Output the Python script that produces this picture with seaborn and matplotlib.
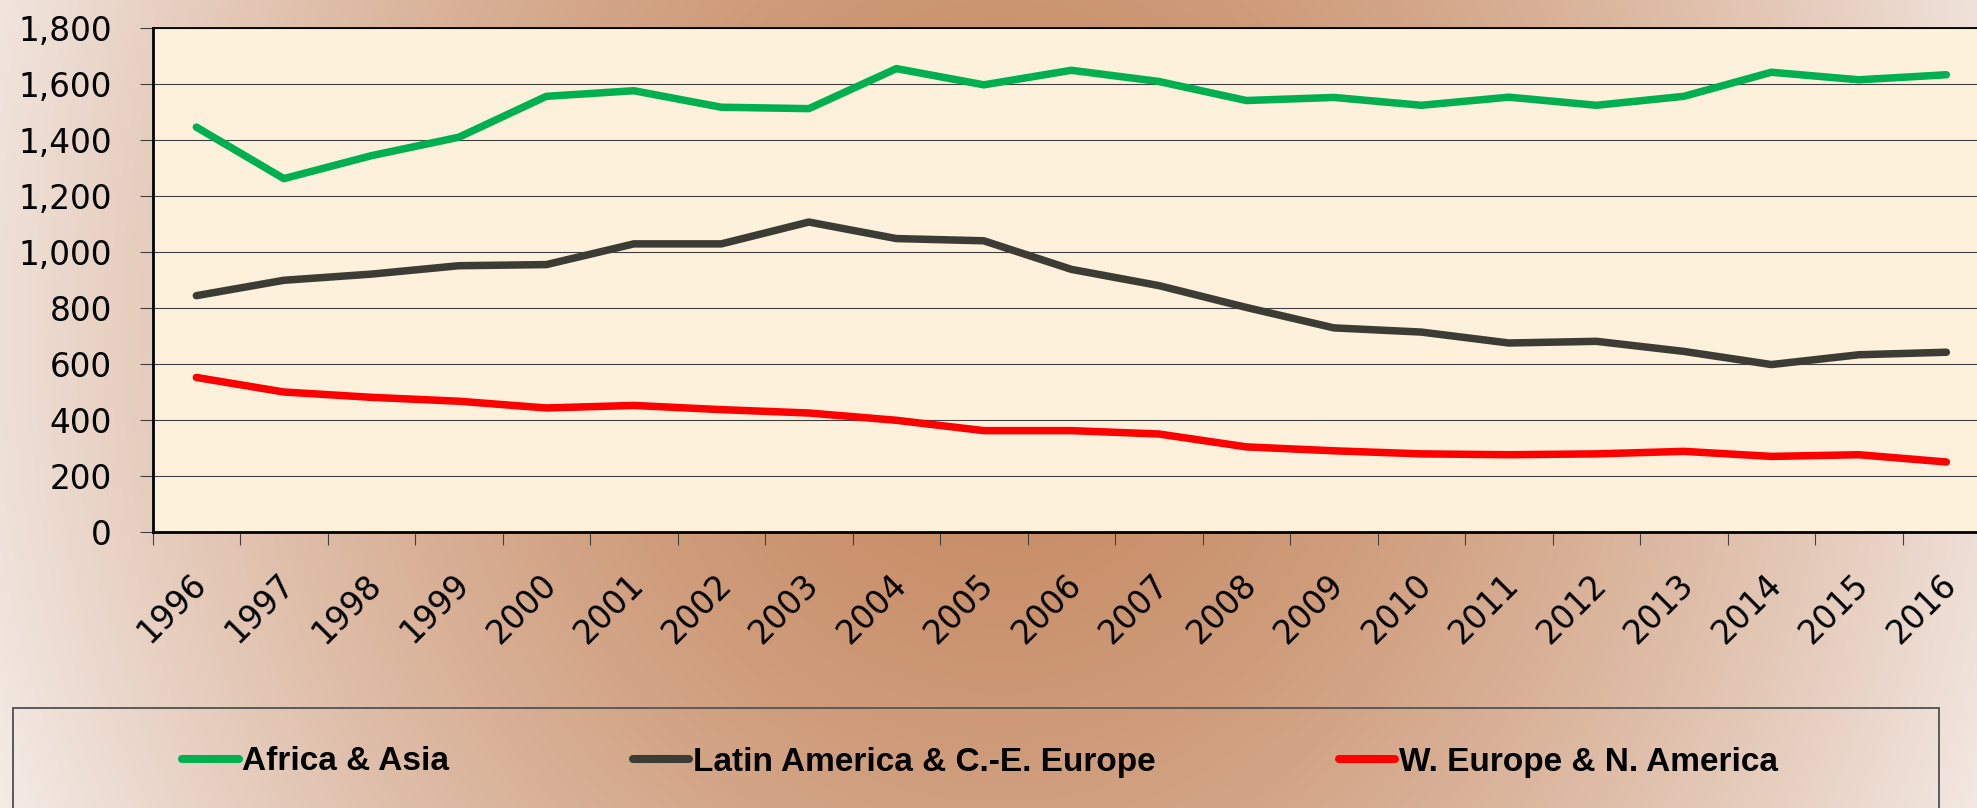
import numpy as np
import pandas as pd
import matplotlib
matplotlib.use("Agg")
import matplotlib.pyplot as plt
import matplotlib.transforms as mtransforms
from matplotlib.lines import Line2D
from matplotlib.patches import Rectangle
import seaborn as sns

# ---------------- data ----------------
years = list(range(1996, 2017))
africa_asia = [1446, 1262, 1344, 1410, 1556, 1576, 1517, 1512, 1655, 1597, 1649,
               1609, 1541, 1552, 1524, 1553, 1524, 1556, 1642, 1615, 1633]
latam_ce_europe = [844, 899, 921, 951, 955, 1029, 1029, 1107, 1048, 1040, 938,
                   880, 802, 729, 714, 675, 681, 645, 598, 633, 642]
weurope_namerica = [552, 500, 481, 467, 443, 452, 437, 425, 399, 362, 362,
                    350, 304, 290, 279, 276, 279, 288, 270, 276, 250]
series_names = ["Africa & Asia", "Latin America & C.-E. Europe", "W. Europe & N. America"]
series_colors = ["#00B050", "#3D3C34", "#FF0000"]
y_ticks = [0, 200, 400, 600, 800, 1000, 1200, 1400, 1600, 1800]

df = pd.DataFrame({
    "year": years * 3,
    "value": africa_asia + latam_ce_europe + weurope_namerica,
    "region": [series_names[0]] * len(years) + [series_names[1]] * len(years)
              + [series_names[2]] * len(years),
})

# ---------------- style ----------------
sns.set_theme(style="white")
plt.rcParams["font.family"] = ["DejaVu Sans"]
plt.rcParams["text.color"] = "black"

W, H = 1977, 808
fig = plt.figure(figsize=(W / 100, H / 100), dpi=100)

# background radial gradient
bg = fig.add_axes([0, 0, 1, 1], zorder=-10)
yy, xx = np.mgrid[0:H, 0:W]
r = np.sqrt(((xx - 1000) / 1150.0) ** 2 + ((yy - 330) / 1300.0) ** 2)
t = np.clip(r, 0, 1) ** 1.6
c0 = np.array([198, 138, 98]) / 255.0
c1 = np.array([249, 245, 244]) / 255.0
img = c0[None, None, :] * (1 - t[..., None]) + c1[None, None, :] * t[..., None]
bg.imshow(img, aspect="auto", extent=[0, 1, 0, 1], origin="upper")
bg.set_axis_off()

# main axes (right edge extends slightly beyond the figure, as in the reference)
left_px, right_px, top_px, bottom_px = 152.6, 1990.1, 28, 532
ax = fig.add_axes([left_px / W, 1 - bottom_px / H,
                   (right_px - left_px) / W, (bottom_px - top_px) / H], zorder=1)
ax.set_facecolor("#FDF1DC")

LW = 5.4
sns.lineplot(data=df, x="year", y="value", hue="region", hue_order=series_names,
             palette=series_colors, linewidth=LW, legend=False, ax=ax, zorder=3)
for ln in ax.lines:
    ln.set_linewidth(LW)
    ln.set_solid_capstyle("round")

ax.set_xlim(1995.5, 2016.5)
ax.set_ylim(0, 1800)
ax.set_xlabel("")
ax.set_ylabel("")

ax.set_yticks(y_ticks)
ax.set_yticklabels([f"{v:,}" for v in y_ticks])
ax.yaxis.grid(True, color="#404040", linewidth=0.8)
ax.xaxis.grid(False)
ax.set_axisbelow(True)

ax.set_xticks(years)
ax.set_xticks([y + 0.5 for y in years[:-1]] + [1995.5], minor=True)
ax.set_xticklabels([str(y) for y in years], rotation=45, ha="right",
                   va="center", rotation_mode="anchor")

ax.tick_params(axis="y", which="major", direction="out", length=9.5, width=0.8,
               color="#404040", pad=20, labelsize=23.5, labelcolor="black", left=True)
ax.tick_params(axis="x", which="major", length=0, pad=34, labelsize=23.5,
               labelcolor="black", bottom=True)
ax.tick_params(axis="x", which="minor", direction="out", length=9.5, width=0.8,
               color="#404040", bottom=True)

offset = mtransforms.ScaledTranslation(5 / 100, 0, fig.dpi_scale_trans)
for lab in ax.get_xticklabels():
    lab.set_transform(lab.get_transform() + offset)

for side in ["left", "bottom"]:
    ax.spines[side].set_color("black")
    ax.spines[side].set_linewidth(2.0)
ax.spines["top"].set_color("black")
ax.spines["top"].set_linewidth(1.3)
ax.spines["right"].set_visible(False)

# legend box
box = Rectangle((12.6 / W, -0.05), (1939 - 12.6) / W, 0.05 + 1 - 708 / H,
                transform=fig.transFigure, facecolor="none", edgecolor="#5A5A5A",
                linewidth=1.4, zorder=2)
fig.patches.append(box)

handles = [Line2D([0], [0], color=c, linewidth=LW + 0.4, solid_capstyle="round")
           for c in series_colors]
leg = fig.legend(handles, series_names, loc="center",
                 bbox_to_anchor=(980 / W, 1 - 762 / H),
                 ncol=3, frameon=False, handlelength=1.7, handletextpad=0.1,
                 columnspacing=5.5, prop={"family": "Liberation Sans", "weight": "bold",
                                          "size": 24})
for txt in leg.get_texts():
    txt.set_color("black")

fig.savefig("out.png", dpi=100)
